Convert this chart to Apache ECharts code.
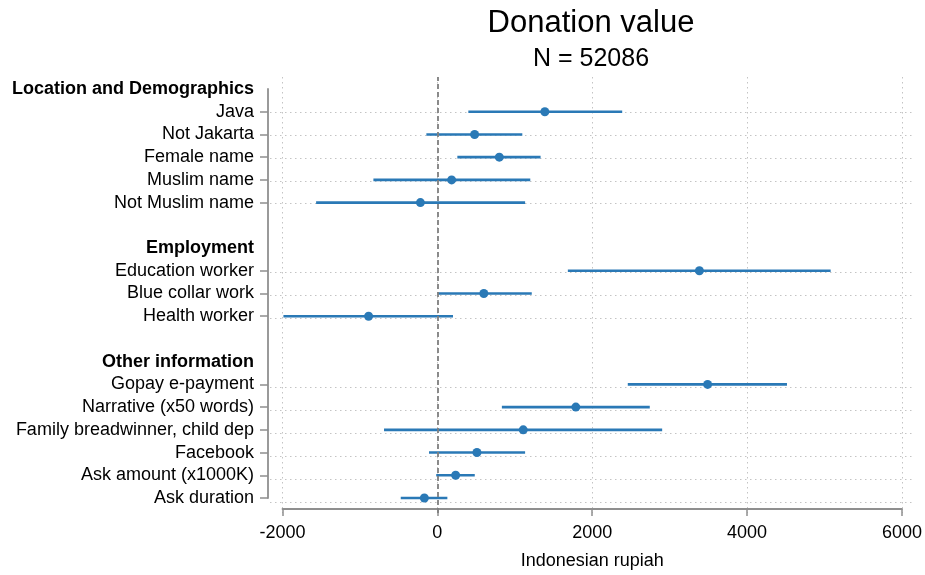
<!DOCTYPE html>
<html><head><meta charset="utf-8">
<script src="https://cdn.jsdelivr.net/npm/echarts@6/dist/echarts.min.js"></script>
<style>html,body{margin:0;padding:0;background:#fff}#c{width:925px;height:575px}</style>
</head><body><div id="c"></div>
<script>
// ---- data ----
const rows = ["Location and Demographics","Java","Not Jakarta","Female name","Muslim name","Not Muslim name"," ",
  "Employment","Education worker","Blue collar work","Health worker","  ",
  "Other information","Gopay e-payment","Narrative (x50 words)","Family breadwinner, child dep","Facebook","Ask amount (x1000K)","Ask duration"];
const headers = ["Location and Demographics","Employment","Other information"];
const varNames = ["Java","Not Jakarta","Female name","Muslim name","Not Muslim name",
  "Education worker","Blue collar work","Health worker",
  "Gopay e-payment","Narrative (x50 words)","Family breadwinner, child dep","Facebook","Ask amount (x1000K)","Ask duration"];
const coef   = [1388, 481, 800, 184, -219, 3384, 600, -888, 3490, 1788, 1109, 511, 236, -168];
const ciLow  = [ 400, -142, 258, -826, -1566, 1685, 2, -1988, 2459, 833, -689, -108, -15, -473];
const ciHigh = [2387, 1097, 1333, 1200, 1133, 5079, 1219, 202, 4515, 2743, 2903, 1133, 483, 129];
const xMin = -2000, xMax = 6000, xStep = 2000;
const refValue = 0;
const titleText = "Donation value";
const subtitleText = "N = 52086";
const xName = "Indonesian rupiah";

// ---- chart ----
const FONT = "'Liberation Sans', Arial, Helvetica, sans-serif";
const BLUE = "#2a79b6";
const AXIS = "#8f8f8f";
const GRID = "#c4c4c4";
const isDataRow = (i, v) => { const name = rows[i]; return headers.indexOf(name) < 0 && name.trim() !== ""; };

const chart = echarts.init(document.getElementById('c'), null, {renderer: 'canvas'});
chart.setOption({
  animation: false,
  backgroundColor: '#fff',
  textStyle: {fontFamily: FONT},
  graphic: [
    {type: 'text', x: 591, y: 23, style: {text: titleText, fontSize: 31, fontFamily: FONT, fill: '#000', align: 'center', verticalAlign: 'middle'}},
    {type: 'text', x: 591, y: 59, style: {text: subtitleText, fontSize: 25, fontFamily: FONT, fill: '#000', align: 'center', verticalAlign: 'middle'}}
  ],
  grid: [
    {left: 270, right: 13, top: 89, height: 413},          // horizontal grid lines
    {left: 282.5, width: 620, top: 77, height: 436},       // vertical grid lines + reference line
    {left: 282.5, width: 620, top: 89, height: 413}        // main plot
  ],
  xAxis: [
    {gridIndex: 0, type: 'value', show: false, min: 0, max: 1},
    {gridIndex: 1, type: 'value', min: xMin, max: xMax, interval: xStep,
      axisLine: {show: false}, axisTick: {show: false}, axisLabel: {show: false},
      splitLine: {show: true, lineStyle: {type: [1.5, 3.5], color: GRID, width: 1}}},
    {gridIndex: 2, type: 'value', min: xMin, max: xMax, interval: xStep, offset: 11,
      axisLine: {show: true, onZero: false, lineStyle: {color: AXIS, width: 1.8}},
      axisTick: {show: true, length: 7, lineStyle: {color: AXIS, width: 1.5}},
      axisLabel: {margin: 15, fontSize: 18, color: '#000', fontFamily: FONT, formatter: (v) => String(v)},
      splitLine: {show: false},
      name: xName, nameLocation: 'middle', nameGap: 43,
      nameTextStyle: {fontSize: 18, color: '#000', fontFamily: FONT}}
  ],
  yAxis: [
    {gridIndex: 0, type: 'category', data: rows, inverse: true, boundaryGap: false,
      axisLine: {show: false}, axisTick: {show: false}, axisLabel: {show: false},
      splitLine: {show: true, interval: isDataRow, lineStyle: {type: [1.5, 3.5], color: GRID, width: 1}}},
    {gridIndex: 1, type: 'value', show: false, min: 0, max: 1},
    {gridIndex: 2, type: 'category', data: rows, inverse: true, boundaryGap: false, offset: 14.5,
      axisLine: {show: true, onZero: false, lineStyle: {color: AXIS, width: 1.8}},
      axisTick: {show: true, length: 8, interval: isDataRow, lineStyle: {color: AXIS, width: 1.5}},
      axisLabel: {interval: 0, margin: 14, color: '#000', fontFamily: FONT,
        formatter: (v) => headers.indexOf(v) >= 0 ? '{h|' + v + '}' : '{n|' + v + '}',
        rich: {h: {fontSize: 18, fontWeight: 'bold', color: '#000', fontFamily: FONT},
               n: {fontSize: 18, color: '#000', fontFamily: FONT}}},
      splitLine: {show: false}}
  ],
  series: [
    {type: 'scatter', xAxisIndex: 1, yAxisIndex: 1, data: [], symbolSize: 0, silent: true,
      markLine: {silent: true, symbol: ['none', 'none'], label: {show: false},
        lineStyle: {type: [5, 3], color: '#7f7f7f', width: 1.8}, data: [{xAxis: refValue}]}},
    {type: 'custom', xAxisIndex: 2, yAxisIndex: 2, silent: true,
      data: varNames.map((n, i) => [ciLow[i], ciHigh[i], rows.indexOf(n)]),
      encode: {x: [0, 1], y: 2},
      renderItem: (params, api) => {
        const a = api.coord([api.value(0), api.value(2)]);
        const b = api.coord([api.value(1), api.value(2)]);
        return {type: 'line', shape: {x1: a[0], y1: a[1], x2: b[0], y2: b[1]},
          style: {stroke: BLUE, lineWidth: 2.6}};
      }},
    {type: 'scatter', xAxisIndex: 2, yAxisIndex: 2, silent: true,
      data: varNames.map((n, i) => [coef[i], rows.indexOf(n)]),
      symbol: 'circle', symbolSize: 9, itemStyle: {color: BLUE, opacity: 1}}
  ]
});
</script>
</body></html>
